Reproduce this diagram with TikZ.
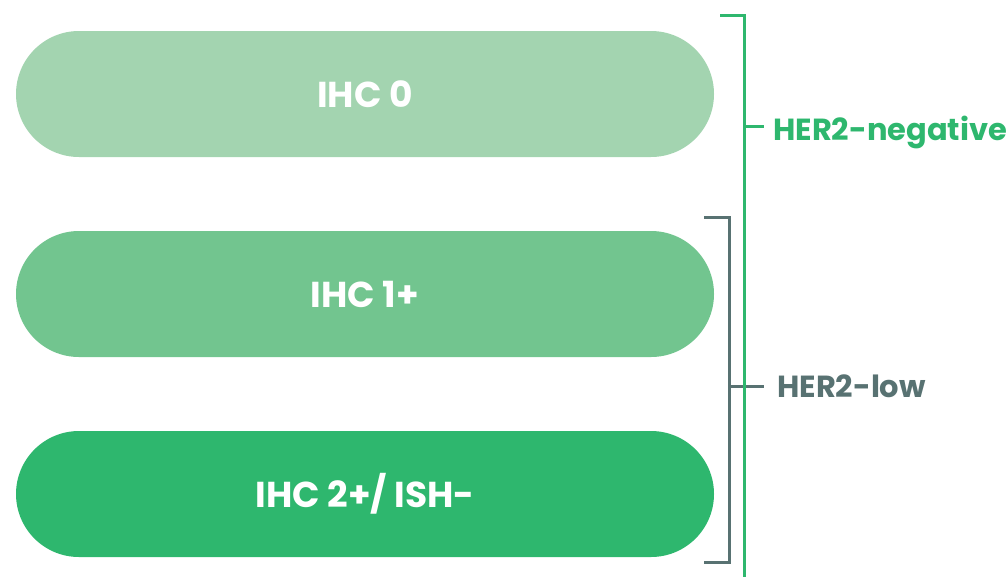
\documentclass[tikz,border=0pt]{standalone}
\usepackage{fontspec}
\setmainfont{Poppins}[UprightFont=* Bold]
\definecolor{pillA}{HTML}{A3D4B0}
\definecolor{pillB}{HTML}{72C58F}
\definecolor{pillC}{HTML}{2EB76E}
\definecolor{brgreen}{HTML}{2EB76E}
\definecolor{brgray}{HTML}{587272}
\tikzset{
  pill/.style={rectangle, rounded corners=63pt, minimum width=698pt, minimum height=126pt, inner sep=0pt, text=white, font=\fontsize{36}{42}\selectfont},
  brline/.style={line width=3pt},
  lbl/.style={anchor=base west, inner sep=0pt, font=\fontsize{30.5}{36}\selectfont}
}
\begin{document}
\begin{tikzpicture}[x=1pt,y=-1pt]
\useasboundingbox (0,0) rectangle (1008,576);
\node[pill, fill=pillA] (p1) at (365,94) {IHC 0};
\node[pill, fill=pillB] (p2) at (365,294) {IHC 1+};
\node[pill, fill=pillC] (p3) at (365,494) {IHC 2+/ ISH-};
% gray bracket
\coordinate (gA) at (704,217);
\coordinate (gB) at (729,217);
\coordinate (gC) at (729,562);
\coordinate (gD) at (704,562);
\coordinate (gM) at (729,386);
\coordinate (gT) at (764,386);
\draw[brline, brgray] (gA) -- (gB) -- (gC) -- (gD);
\draw[brline, brgray] (gM) -- (gT);
\node[lbl, text=brgray] (low) at (777,397) {HER2-low};
% green bracket
\coordinate (nA) at (720,15);
\coordinate (nB) at (744,15);
\coordinate (nC) at (744,580);
\coordinate (nM) at (744,126);
\coordinate (nT) at (764,126);
\draw[brline, brgreen] (nA) -- (nB) -- (nC);
\draw[brline, brgreen] (nM) -- (nT);
\node[lbl, text=brgreen] (neg) at (773,140) {HER2-negative};
\end{tikzpicture}
\end{document}
